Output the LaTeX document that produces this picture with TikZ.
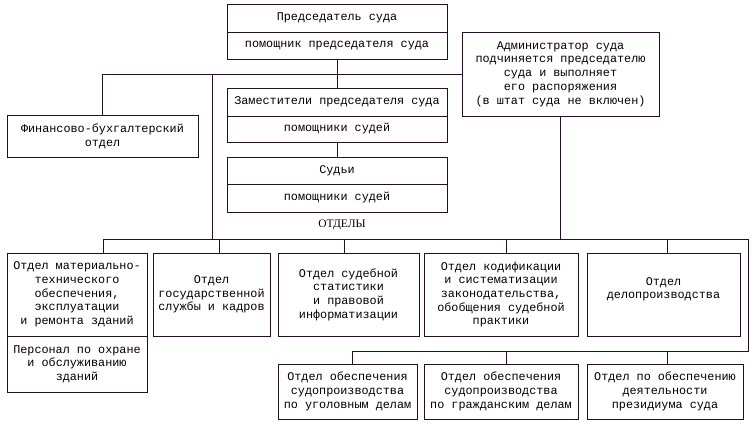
\documentclass[tikz,border=0pt]{standalone}
\usepackage{fontspec}
\setmainfont{Liberation Mono}
\newfontfamily\otdfont{Liberation Serif}
\usepackage{tikz}
\usetikzlibrary{positioning, calc}
\definecolor{linecol}{RGB}{35,15,35}

\begin{document}
\begin{tikzpicture}[
        x=1pt,
        y=-1pt,
        box/.style={draw=linecol,line width=1pt,align=center,inner sep=0pt,font=\fontsize{11.8}{13.7}\selectfont},
        conn/.style={draw=linecol,line width=1pt}
    ]
        \useasboundingbox (0,0) rectangle (756,432);
        % top of the court
        \node[box,minimum width=220pt,minimum height=28pt] (pred) at (337,18) {Председатель суда};
        \node[box,minimum width=220pt,minimum height=27pt] (predpom) at (337,45.5) {помощник председателя суда};
        \node[box,minimum width=197pt,minimum height=84pt] (admin) at (560.5,74)
            {Администратор суда\\подчиняется председателю\\суда и выполняет\\его распоряжения\\(в штат суда не включен)};
        \node[box,minimum width=220pt,minimum height=28pt] (zam) at (337,102) {Заместители председателя суда};
        \node[box,minimum width=220pt,minimum height=26pt] (zampom) at (337,129) {помощники судей};
        \node[box,minimum width=220pt,minimum height=27pt] (sud) at (337,170.5) {Судьи};
        \node[box,minimum width=220pt,minimum height=28pt] (sudpom) at (337,198) {помощники судей};
        \node[box,minimum width=191pt,minimum height=42pt] (fin) at (102.5,136) {Финансово-бухгалтерский\\отдел};
        \node[font=\otdfont\fontsize{11.5}{13}\selectfont] (otd) at (342,225) {ОТДЕЛЫ};
        % departments
        \node[box,minimum width=140pt,minimum height=83pt] (d1) at (77,294.5)
            {Отдел материально-\\технического\\обеспечения,\\эксплуатации\\и ремонта зданий};
        \node[box,minimum width=140pt,minimum height=56pt] (d1b) at (77,364)
            {Персонал по охране\\и обслуживанию\\зданий};
        \node[box,minimum width=117pt,minimum height=83pt] (d2) at (211.5,294.5)
            {Отдел\\государственной\\службы и кадров};
        \node[box,minimum width=141pt,minimum height=83pt] (d3) at (348.5,294.5)
            {Отдел судебной\\статистики\\и правовой\\информатизации};
        \node[box,minimum width=154pt,minimum height=83pt] (d4) at (501,294.5)
            {Отдел кодификации\\и систематизации\\законодательства,\\обобщения судебной\\практики};
        \node[box,minimum width=153pt,minimum height=83pt] (d5) at (663.5,294.5)
            {Отдел\\делопроизводства\\[-1pt]};
        \node[box,minimum width=139pt,minimum height=55pt] (l1) at (347.5,391.5)
            {Отдел обеспечения\\судопроизводства\\по уголовным делам};
        \node[box,minimum width=154pt,minimum height=55pt] (l2) at (501,391.5)
            {Отдел обеспечения\\судопроизводства\\по гражданским делам};
        \node[box,minimum width=156pt,minimum height=55pt] (l3) at (665,391.5)
            {Отдел по обеспечению\\деятельности\\президиума суда};
        % connectors
        \coordinate (trunk) at (212,74);
        \coordinate (dbW) at (103,239);
        \coordinate (dbE) at (748,239);
        \coordinate (lbE) at (748,351);
        \coordinate (lbW) at (352,351);
        \draw[conn] (fin.north) |- (admin.west);
        \draw[conn] (predpom.south) -- (zam.north);
        \draw[conn] (zampom.south) -- (sud.north);
        \draw[conn] (trunk) -- (trunk |- dbW);
        \draw[conn] (admin.south) -- (admin.south |- dbW);
        \draw[conn] (dbW) -- (dbE) -- (lbE) -- (lbW) -- (lbW |- l1.north);
        \draw[conn] (dbW) -- (dbW |- d1.north);
        \draw[conn] ([xshift=7.5pt]d2.north) -- ([xshift=7.5pt]d2.north |- dbW);
        \draw[conn] ([xshift=-4.5pt]d3.north) -- ([xshift=-4.5pt]d3.north |- dbW);
        \draw[conn] ([xshift=5pt]d4.north) -- ([xshift=5pt]d4.north |- dbW);
        \draw[conn] ([xshift=3.5pt]d5.north) -- ([xshift=3.5pt]d5.north |- dbW);
        \draw[conn] ([xshift=5pt]l2.north) -- ([xshift=5pt]l2.north |- lbE);
        \draw[conn] ([xshift=2pt]l3.north) -- ([xshift=2pt]l3.north |- lbE);
    \end{tikzpicture}
\end{document}
